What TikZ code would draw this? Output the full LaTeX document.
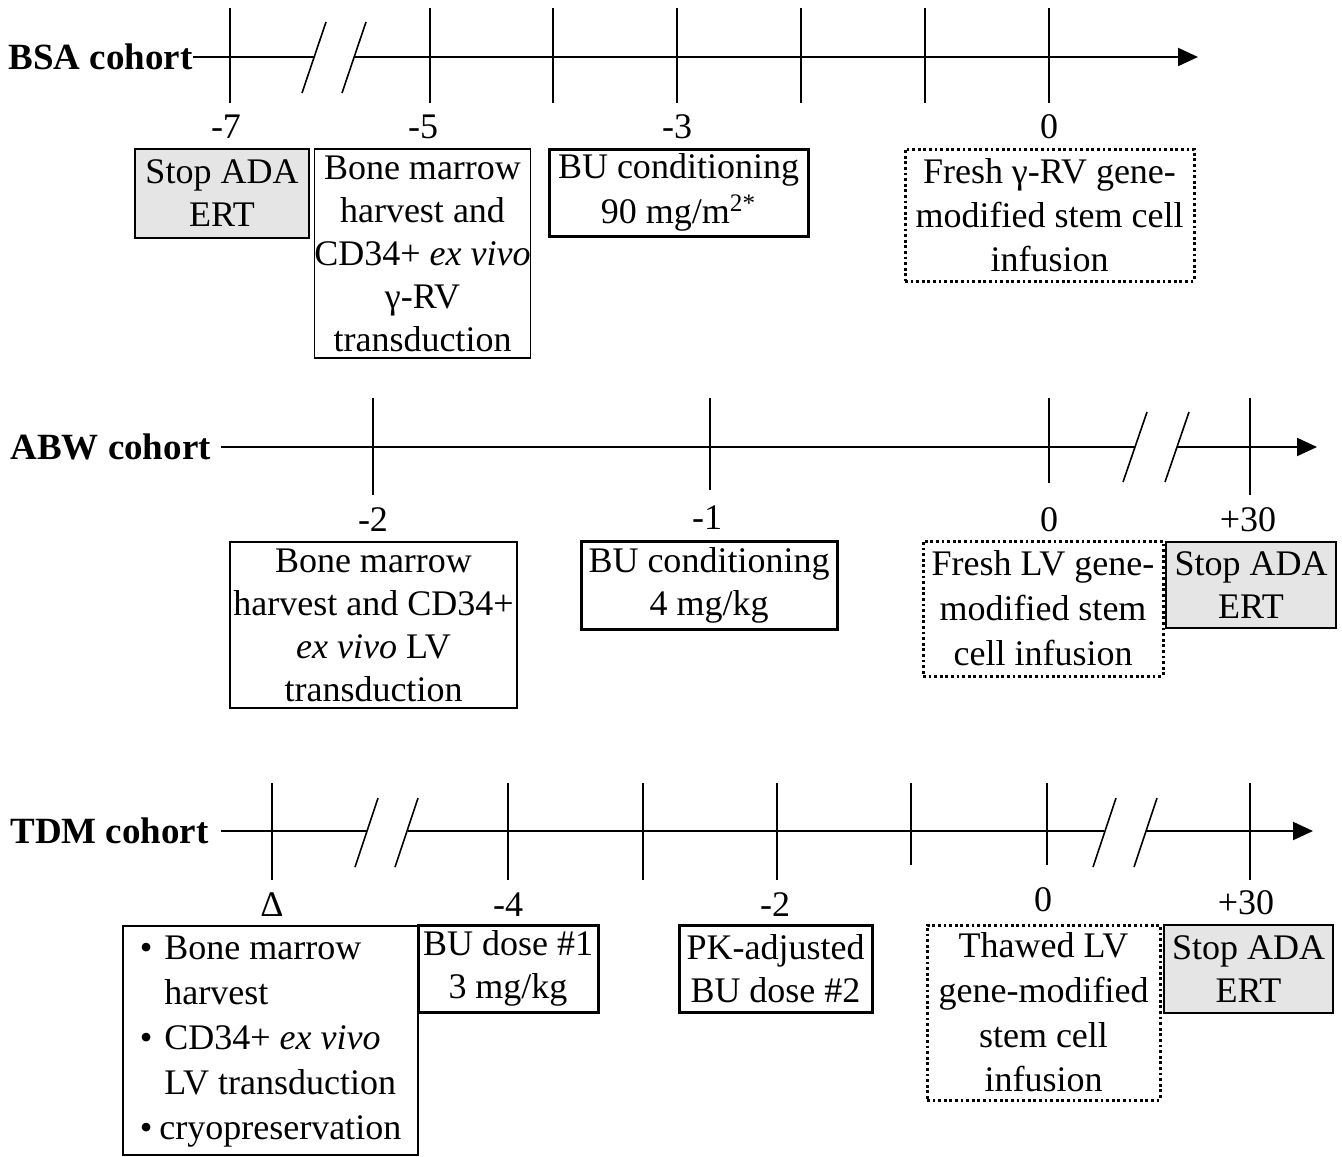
\documentclass[tikz,border=0pt]{standalone}
\usepackage{fontspec}
\setmainfont{Liberation Serif}
\usetikzlibrary{arrows.meta,positioning}

\begin{document}
\begin{tikzpicture}[x=0.5pt, y=-0.5pt, every node/.style={font=\fontsize{18}{21.5}\selectfont}]
		\tikzstyle{Cohort}	= [font=\fontsize{18.5}{21.5}\selectfont\bfseries, inner sep=0pt, anchor=west]
		\tikzstyle{Day}		= [inner sep=0pt]
		\tikzstyle{Box}		= [draw, line width=0.75pt, align=center, inner sep=0pt]
		\tikzstyle{Stop}	= [Box, fill=black!10]
		\tikzstyle{BU}		= [Box, line width=1.5pt]
		\tikzstyle{Infusion}	= [Box, line width=1.5pt, dash pattern=on 1.4pt off 1.4pt]
		\tikzstyle{Axis}	= [line width=1pt]
		\tikzstyle{Tick}	= [line width=0.8pt]
		\tikzstyle{Break}	= [line width=0.8pt]
		\tikzstyle{Head}	= [-{Triangle[length=10pt, width=9pt]}]

		\useasboundingbox (0,0) rectangle (1342,1156);

		% BSA cohort
		\node (bsa) at (8, 57) [Cohort] {BSA cohort};
		\coordinate (bsaL) at (314, 57);
		\coordinate (bsaR) at (355, 57);
		\coordinate (bsaE) at (1198, 57);
		\draw (bsa.east) -- (bsaL) [Axis];
		\draw (bsaR) -- (bsaE) [Axis, Head];
		\foreach \x in {230, 430, 553, 677, 801, 925, 1049}
			\draw (\x, 8) -- (\x, 103) [Tick];
		\foreach \x in {302, 342}
			\draw (\x, 93) -- ++(24, -71) [Break];

		\node (dA7) at (226, 127) [Day] {-7};
		\node (dA5) at (423, 127) [Day] {-5};
		\node (dA3) at (677, 127) [Day] {-3};
		\node (dA0) at (1049, 127) [Day] {0};

		\node (stopA) at (222, 193.5) [Stop, minimum width=87pt, minimum height=44.5pt] {Stop ADA\\ERT};
		\node (harvA) at (422.5, 253.5) [Box, minimum width=107.5pt, minimum height=104.5pt] {Bone marrow\\harvest and\\CD34+ \textit{ex vivo}\\γ-RV\\transduction};
		\node (buA) at (678.5, 192.5) [BU, minimum width=129.5pt, minimum height=43.5pt] {BU conditioning\\[1pt]90 mg/m\textsuperscript{2*}};
		\node (infA) at (1049.5, 215) [Infusion, minimum width=144.5pt, minimum height=66pt, font=\fontsize{18}{22}\selectfont] {Fresh γ-RV gene-\\modified stem cell\\infusion};

		% ABW cohort
		\node (abw) at (10, 447) [Cohort] {ABW cohort};
		\coordinate (abwL) at (1135, 447);
		\coordinate (abwR) at (1177, 447);
		\coordinate (abwE) at (1317, 447);
		\draw (abw.east) -- (abwL) [Axis, shorten <=5pt];
		\draw (abwR) -- (abwE) [Axis, Head];
		\draw (373, 398) -- (373, 495) [Tick];
		\draw (710, 398) -- (710, 490) [Tick];
		\draw (1049, 398) -- (1049, 483) [Tick];
		\draw (1250, 398) -- (1250, 495) [Tick];
		\foreach \x in {1123, 1165}
			\draw (\x, 482) -- ++(24, -70) [Break];

		\node (dB2) at (373, 520) [Day] {-2};
		\node (dB1) at (707, 518) [Day] {-1};
		\node (dB0) at (1049, 520) [Day] {0};
		\node (dB30) at (1248, 520) [Day] {+30};

		\node (harvB) at (373.5, 625) [Box, minimum width=143.5pt, minimum height=83pt] {Bone marrow\\harvest and CD34+\\\textit{ex vivo} LV\\transduction};
		\node (buB) at (709, 585) [BU, minimum width=128pt, minimum height=44pt] {BU conditioning\\4 mg/kg};
		\node (infB) at (1043, 608.5) [Infusion, minimum width=120pt, minimum height=67.5pt, font=\fontsize{18}{22.5}\selectfont] {Fresh LV gene-\\modified stem\\cell infusion};
		\node (stopB) at (1251, 585) [Stop, minimum width=85pt, minimum height=43pt] {Stop ADA\\ERT};

		% TDM cohort
		\node (tdm) at (10, 831) [Cohort] {TDM cohort};
		\coordinate (tdmL) at (367, 831);
		\coordinate (tdmR) at (408, 831);
		\coordinate (tdmM) at (1104, 831);
		\coordinate (tdmN) at (1146, 831);
		\coordinate (tdmE) at (1313, 831);
		\draw (tdm.east) -- (tdmL) [Axis, shorten <=6pt];
		\draw (tdmR) -- (tdmM) [Axis];
		\draw (tdmN) -- (tdmE) [Axis, Head];
		\foreach \x in {272, 508, 643, 777, 1250}
			\draw (\x, 783) -- (\x, 880) [Tick];
		\foreach \x in {911, 1047}
			\draw (\x, 783) -- (\x, 865) [Tick];
		\foreach \x in {355, 395, 1093, 1134}
			\draw (\x, 867) -- ++(23, -69) [Break];

		\node (dCd) at (272, 905) [Day] {Δ};
		\node (dC4) at (508, 905) [Day] {-4};
		\node (dC2) at (775, 905) [Day] {-2};
		\node (dC0) at (1043, 900) [Day] {0};
		\node (dC30) at (1246, 903) [Day] {+30};

		\node (harvC) at (270.5, 1040.5) [Box, minimum width=147.5pt, minimum height=114.5pt, font=\fontsize{18}{22.5}\selectfont] {\begin{tabular}{@{}l@{\hspace{6pt}}l@{}}
			\textbullet & Bone marrow\\
			& harvest\\
			\textbullet & CD34+ \textit{ex vivo}\\
			& LV transduction\\
			\textbullet & \hspace{-2.5pt}cryopreservation
		\end{tabular}};
		\node (buC) at (508, 968.5) [BU, minimum width=90pt, minimum height=43.5pt] {BU dose \#1\\3 mg/kg};
		\node (pkC) at (775.5, 968.5) [BU, minimum width=96.5pt, minimum height=43.5pt] {PK-adjusted\\BU dose \#2};
		\node (infC) at (1043.5, 1012.5) [Infusion, minimum width=116.5pt, minimum height=87.5pt, font=\fontsize{18}{22.3}\selectfont] {Thawed LV\\gene-modified\\stem cell\\infusion};
		\node (stopC) at (1248.5, 969) [Stop, minimum width=84.5pt, minimum height=44pt] {Stop ADA\\ERT};
	\end{tikzpicture}
\end{document}
